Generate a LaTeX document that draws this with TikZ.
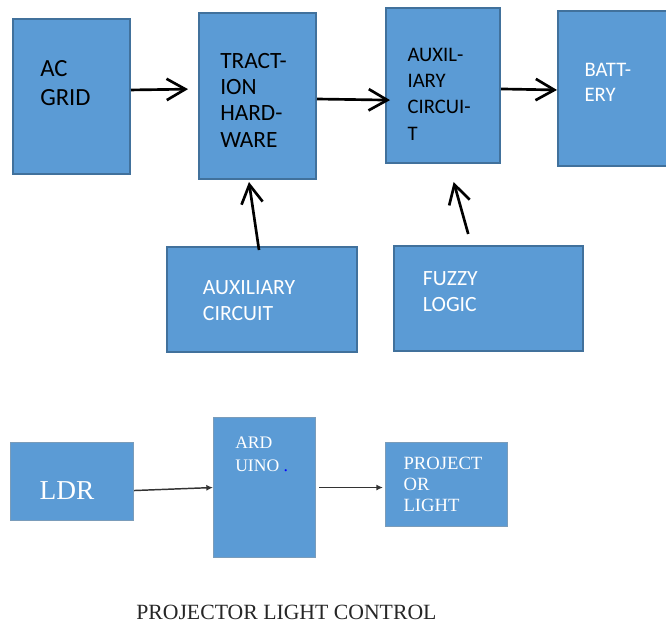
\documentclass[tikz,border=0pt]{standalone}
\usepackage{fontspec}
\setmainfont{Carlito}
\newfontfamily\lserif{Liberation Serif}
\usetikzlibrary{arrows.meta,positioning}
\definecolor{blkfill}{HTML}{5B9BD5}
\definecolor{blkline}{HTML}{41719C}

\begin{document}
\begin{tikzpicture}[
		x=0.75pt, y=-0.75pt,
		blk/.style 2 args={
			draw=blkline, fill=blkfill, line width=1.5pt,
			anchor=north west, inner sep=0pt,
			minimum width=#1*0.75pt, minimum height=#2*0.75pt
		},
		botblk/.style 2 args={
			blk={#1}{#2}, draw=blkline!70!white, line width=0.8pt
		},
		txt/.style={anchor=north west, inner sep=0pt, align=left},
		toparr/.style={-{Straight Barb[length=14pt,width=16pt]}, line width=2pt},
		botarr/.style={-{Latex[length=5pt,width=4.5pt]}, line width=1.1pt, draw=black!80}
		]
		
		\useasboundingbox (0,0) rectangle (666,623);
		
		% charging chain
		\node[blk={117}{155}] (acgrid) at (12,18) {};
		\node[blk={117}{166}] (traction) at (198,12) {};
		\node[blk={114}{155}] (auxtop) at (385,7) {};
		\node[blk={115}{155}] (battery) at (557,10) {};
		\node[blk={190}{105}] (auxbot) at (166,246) {};
		\node[blk={189}{105}] (fuzzy) at (393,245) {};
		
		\node[txt, font=\fontsize{18.5}{21.75}\selectfont] (acgridtxt) at (40,60) {AC\\GRID};
		\node[txt, font=\fontsize{17.5}{19.6}\selectfont] (tractiontxt) at (220,53.3) {TRACT-\\ION\\HARD-\\WARE};
		\node[txt, font=\fontsize{15.5}{19.7}\selectfont] (auxtoptxt) at (407.3,47.7) {AUXIL-\\IARY\\CIRCUI-\\T};
		\node[txt, white, font=\fontsize{15.5}{19.3}\selectfont] (batterytxt) at (584.3,62.7) {BATT-\\ERY};
		\node[txt, white, font=\fontsize{16.3}{20}\selectfont] (auxbottxt) at (202.7,280) {AUXILIARY\\CIRCUIT};
		\node[txt, white, font=\fontsize{16.3}{19.5}\selectfont] (fuzzytxt) at (422.7,271.7) {FUZZY\\LOGIC};
		
		\draw[toparr, shorten >=7.5pt] ([yshift=4.9pt]acgrid.east) -- ([yshift=5.25pt]traction.west);
		\draw[toparr, shorten >=-3.75pt] ([yshift=-2.25pt]traction.east) -- ([yshift=-10.9pt]auxtop.west);
		\draw[toparr] ([yshift=-2.6pt]auxtop.east) -- ([yshift=-1.1pt]battery.west);
		\draw[toparr] ([xshift=-2.25pt,yshift=-3pt]auxbot.north) -- ([xshift=-6.4pt,yshift=-1.5pt]traction.south);
		\draw[toparr] ([xshift=-15.2pt,yshift=8.25pt]fuzzy.north) -- ([xshift=8pt,yshift=-13.5pt]auxtop.south);
		
		% projector light control
		\node[botblk={123}{78}] (ldr) at (10,442) {};
		\node[botblk={102}{140}] (arduino) at (213,417) {};
		\node[botblk={122}{84}] (projector) at (385,442) {};
		
		\node[txt, white, font=\lserif\fontsize{20.5}{24}\selectfont] (ldrtxt) at (39.3,481) {LDR};
		\node[txt, white, font=\lserif\fontsize{13.2}{17}\selectfont] (arduinotxt) at (235,436.7) {ARD\\UINO {\color{blue}.}};
		\node[txt, white, font=\lserif\fontsize{14}{15.75}\selectfont] (projectortxt) at (403.3,456.7) {PROJECT\\OR\\LIGHT};
		
		\draw[botarr] ([yshift=-6.75pt]ldr.east) -- (arduino.west);
		\draw[botarr, shorten <=2.25pt, shorten >=1.5pt] (arduino.east) -- ([yshift=-2.25pt]projector.west);
		
		\node[txt, text=black!85, font=\lserif\fontsize{16.3}{19}\selectfont] (title) at (136,604.5) {PROJECTOR LIGHT CONTROL};
		
	\end{tikzpicture}
\end{document}
